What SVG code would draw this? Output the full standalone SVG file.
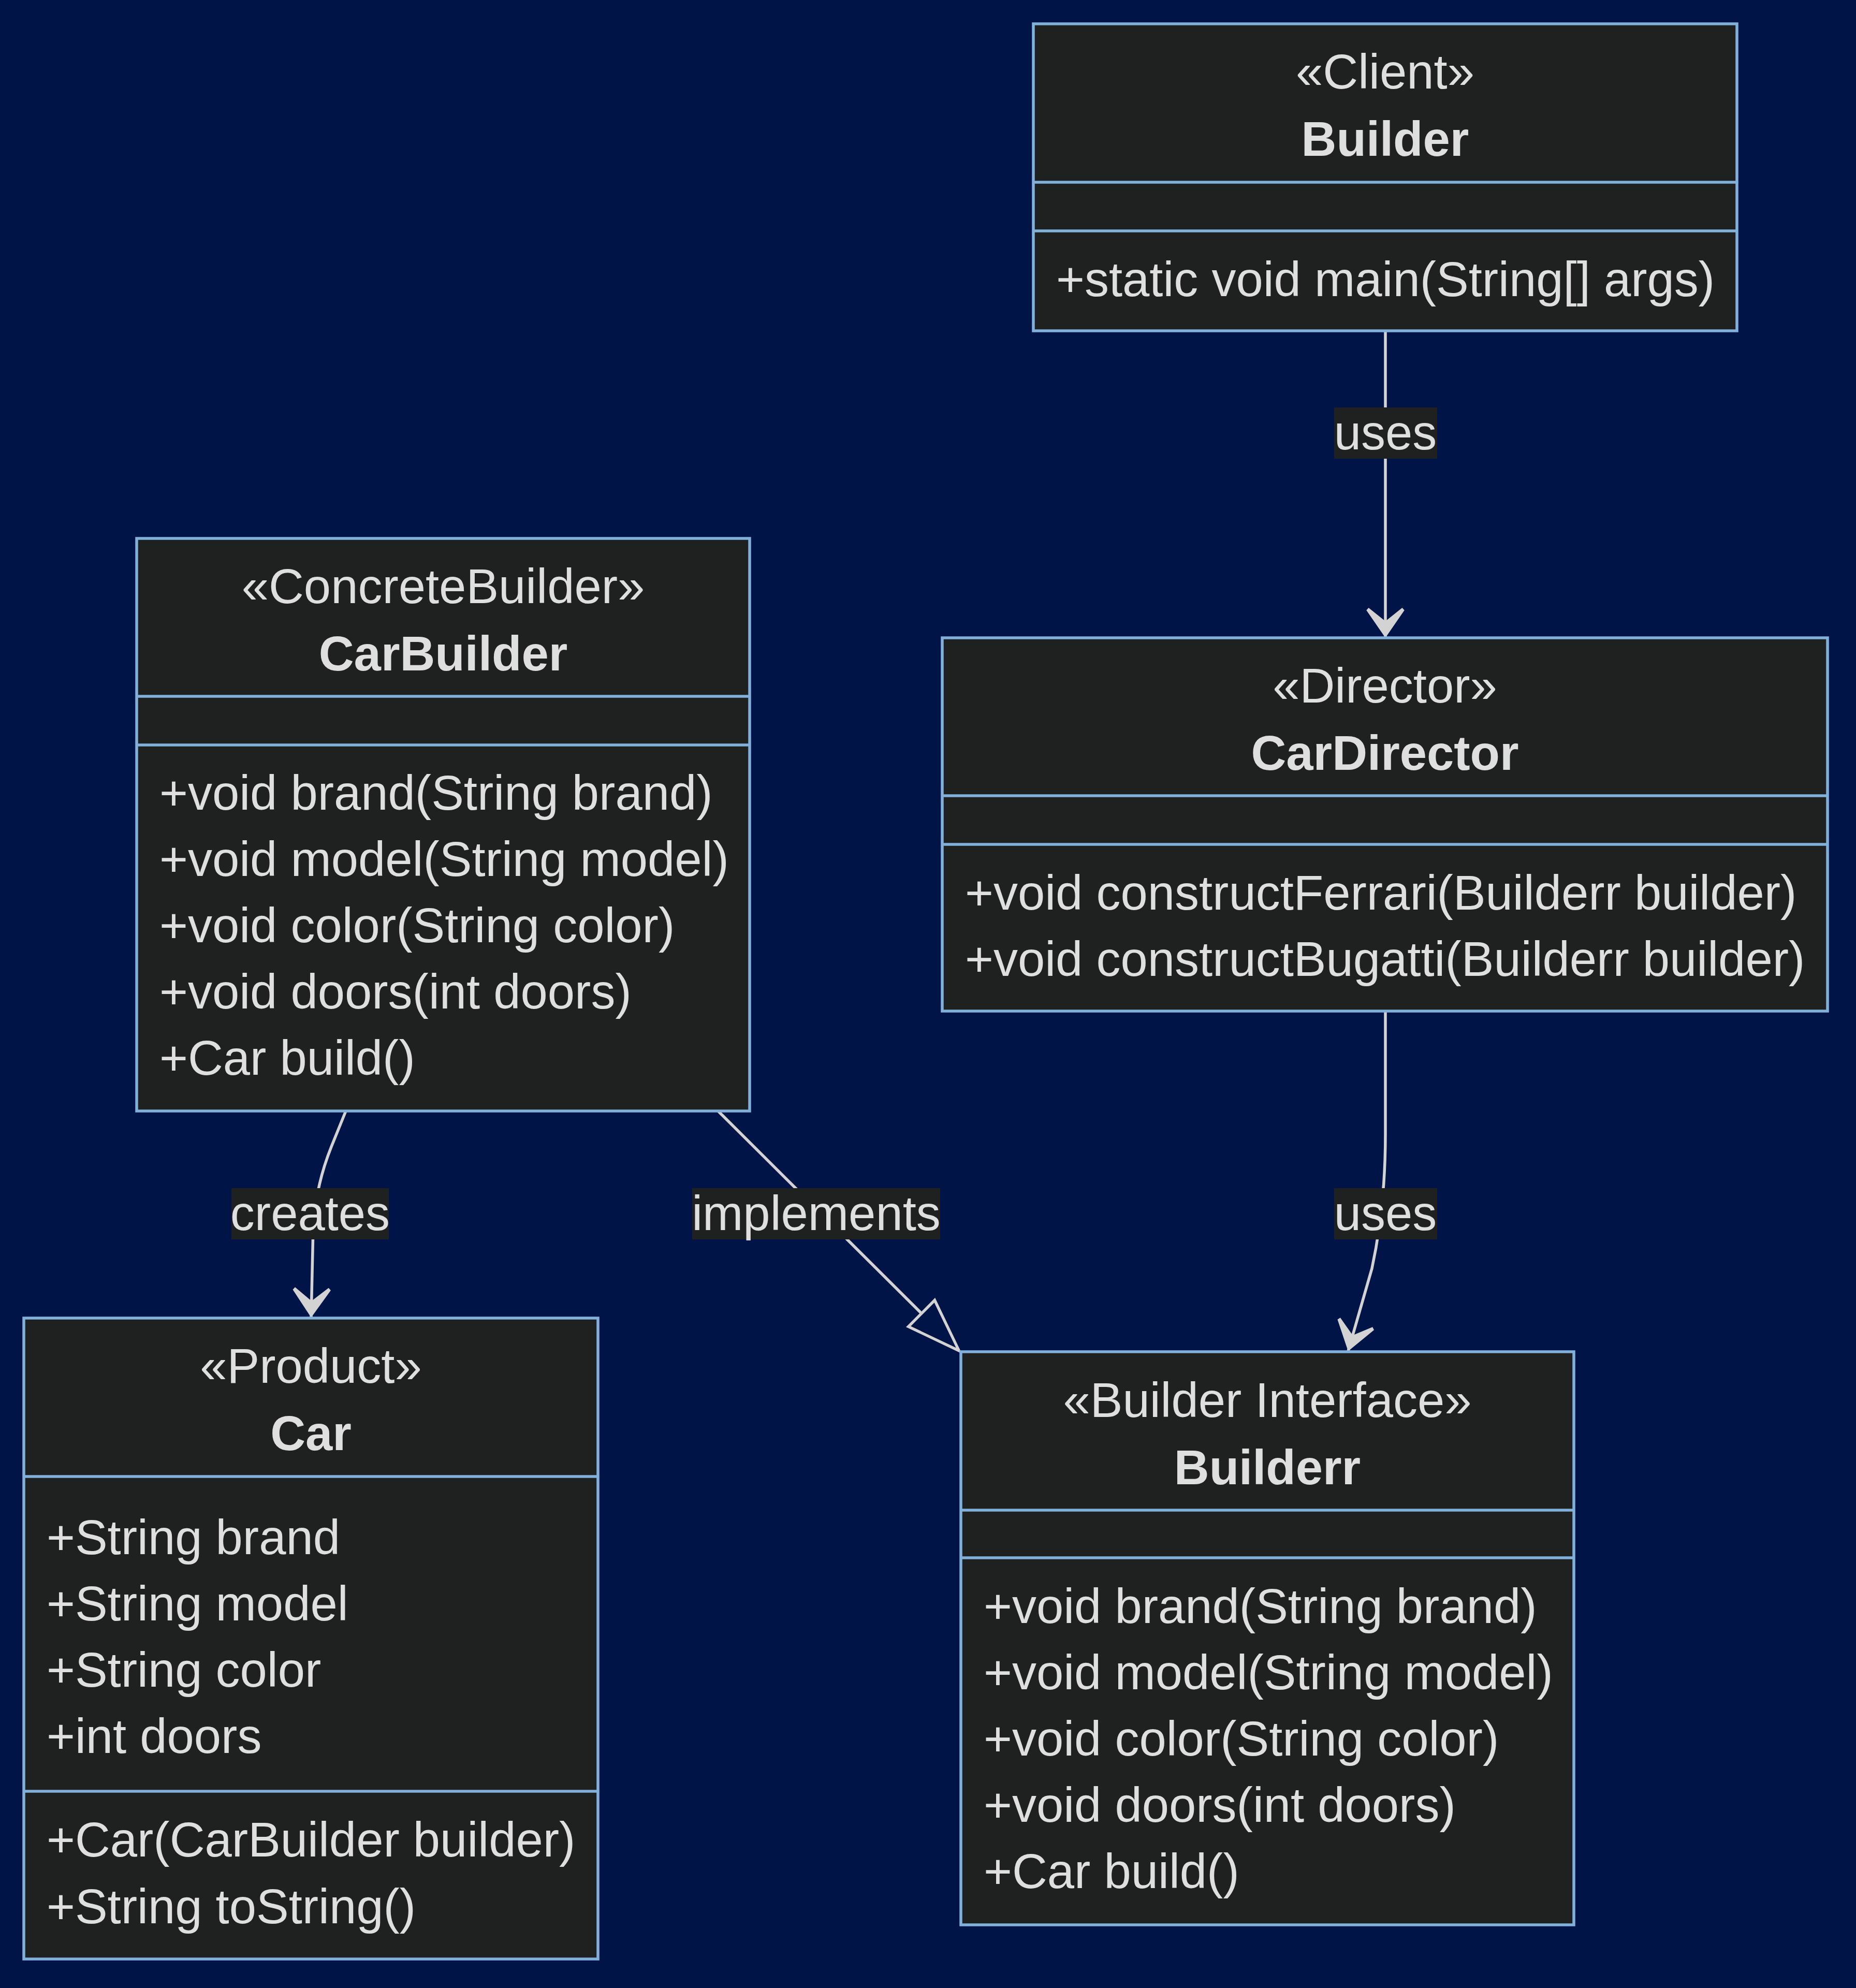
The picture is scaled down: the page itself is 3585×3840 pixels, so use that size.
<svg xmlns="http://www.w3.org/2000/svg" width="3585" height="3840" viewBox="0 0 3585 3840">
<style>
.box{fill:#1f2020;stroke:#81b1db;stroke-width:5.5}
.div{stroke:#81b1db;stroke-width:5.5}
.t{font-family:"Liberation Sans",Arial,sans-serif;font-size:94px;fill:#e0dfdf}
.c{text-anchor:middle}
.b{font-weight:bold}
.edge{fill:none;stroke:#d3d3d3;stroke-width:5.5}
.lbl{fill:#1f2020}
</style>
<defs>
<marker id="dep" viewBox="0 0 62 80" markerWidth="62" markerHeight="80" refX="60" refY="40" orient="auto" markerUnits="userSpaceOnUse">
<path d="M60,40 L6.7,3.3 L2,7.6 L28,40 L2,72.4 L6.7,76.7 Z" fill="#d3d3d3"/>
</marker>
<marker id="ext" viewBox="0 0 20 14" markerWidth="120" markerHeight="84" refX="1" refY="7" orient="auto" markerUnits="userSpaceOnUse">
<path d="M 1,1 V 13 L18,7 Z" fill="none" stroke="#d3d3d3" stroke-width="0.9"/>
</marker>
</defs>
<rect x="0" y="0" width="3585" height="3840" fill="#001447"/>

<g id="connectors">
<path class="edge" d="M2676,639 L2676,1232" marker-end="url(#dep)"/>
<path class="edge" d="M2676,1953 L2676,2190 Q2676,2330 2650,2450 L2604,2610" marker-end="url(#dep)"/>
<path class="edge" d="M668,2146 L640,2215 Q610,2290 605,2370 L601,2545" marker-end="url(#dep)"/>
<path class="edge" d="M1387,2146 L1780,2537" marker-end="url(#ext)"/>
<g id="label-uses-1"><rect class="lbl" x="2577" y="787" width="199" height="99"/><text class="t c" x="2676" y="868">uses</text></g>
<g id="label-uses-2"><rect class="lbl" x="2577" y="2295" width="199" height="99"/><text class="t c" x="2676" y="2376">uses</text></g>
<g id="label-creates"><rect class="lbl" x="447" y="2295" width="304" height="99"/><text class="t c" x="599" y="2376">creates</text></g>
<g id="label-implements"><rect class="lbl" x="1337" y="2295" width="479" height="99"/><text class="t c" x="1576.5" y="2376">implements</text></g>
</g>

<g id="node-Builder">
<rect class="box" x="1996" y="46" width="1359" height="593"/>
<line class="div" x1="1996" y1="352" x2="3355" y2="352"/>
<line class="div" x1="1996" y1="446" x2="3355" y2="446"/>
<text class="t c" x="2675.5" y="171">«Client»</text>
<text class="t c b" x="2675.5" y="301">Builder</text>
<text class="t" x="2040" y="572">+static void main(String[] args)</text>
</g>

<g id="node-CarBuilder">
<rect class="box" x="264" y="1040" width="1184" height="1106"/>
<line class="div" x1="264" y1="1345" x2="1448" y2="1345"/>
<line class="div" x1="264" y1="1439" x2="1448" y2="1439"/>
<text class="t c" x="856" y="1165">«ConcreteBuilder»</text>
<text class="t c b" x="856" y="1295">CarBuilder</text>
<text class="t" x="308" y="1564">+void brand(String brand)</text>
<text class="t" x="308" y="1692">+void model(String model)</text>
<text class="t" x="308" y="1820">+void color(String color)</text>
<text class="t" x="308" y="1948">+void doors(int doors)</text>
<text class="t" x="308" y="2076">+Car build()</text>
</g>

<g id="node-CarDirector">
<rect class="box" x="1820" y="1232" width="1710" height="721"/>
<line class="div" x1="1820" y1="1537" x2="3530" y2="1537"/>
<line class="div" x1="1820" y1="1631" x2="3530" y2="1631"/>
<text class="t c" x="2675" y="1357">«Director»</text>
<text class="t c b" x="2675" y="1487">CarDirector</text>
<text class="t" x="1864" y="1757">+void constructFerrari(Builderr builder)</text>
<text class="t" x="1864" y="1885">+void constructBugatti(Builderr builder)</text>
</g>

<g id="node-Car">
<rect class="box" x="46" y="2546" width="1109" height="1238"/>
<line class="div" x1="46" y1="2852" x2="1155" y2="2852"/>
<line class="div" x1="46" y1="3460" x2="1155" y2="3460"/>
<text class="t c" x="600.5" y="2671">«Product»</text>
<text class="t c b" x="600.5" y="2801">Car</text>
<text class="t" x="90" y="3002">+String brand</text>
<text class="t" x="90" y="3130">+String model</text>
<text class="t" x="90" y="3258">+String color</text>
<text class="t" x="90" y="3386">+int doors</text>
<text class="t" x="90" y="3586">+Car(CarBuilder builder)</text>
<text class="t" x="90" y="3715">+String toString()</text>
</g>

<g id="node-Builderr">
<rect class="box" x="1856" y="2611" width="1184" height="1107"/>
<line class="div" x1="1856" y1="2917" x2="3040" y2="2917"/>
<line class="div" x1="1856" y1="3009" x2="3040" y2="3009"/>
<text class="t c" x="2448" y="2737">«Builder Interface»</text>
<text class="t c b" x="2448" y="2867">Builderr</text>
<text class="t" x="1900" y="3135">+void brand(String brand)</text>
<text class="t" x="1900" y="3263">+void model(String model)</text>
<text class="t" x="1900" y="3391">+void color(String color)</text>
<text class="t" x="1900" y="3519">+void doors(int doors)</text>
<text class="t" x="1900" y="3647">+Car build()</text>
</g>
</svg>
